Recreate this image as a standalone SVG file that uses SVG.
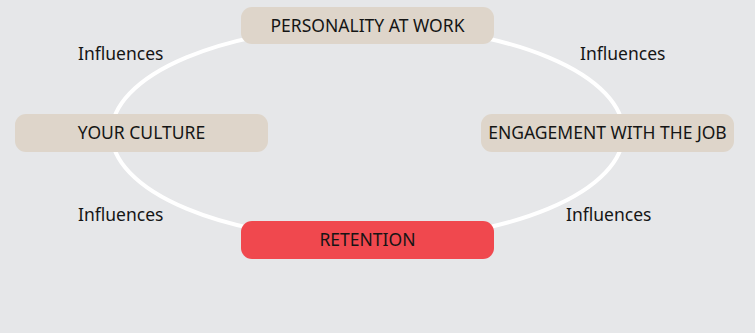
<svg xmlns="http://www.w3.org/2000/svg" width="755" height="333" viewBox="0 0 755 333">
  <style>
    .node { fill: #ded5ca; }
    .hot { fill: #f0484e; }
    .lbl { font-family: "Noto Sans", "Open Sans", sans-serif; font-size: 17.5px; fill: #151515; text-anchor: middle; }
    .edge { font-family: "Noto Sans", "Open Sans", sans-serif; font-size: 17.5px; fill: #151515; }
  </style>
  <rect width="755" height="333" fill="#e6e7e9"/>
  <g id="connectors">
    <ellipse cx="367.5" cy="133" rx="256" ry="107" fill="none" stroke="#ffffff" stroke-width="4"/>
    <text class="edge" x="78" y="60">Influences</text>
    <text class="edge" x="580" y="60">Influences</text>
    <text class="edge" x="78" y="221">Influences</text>
    <text class="edge" x="566" y="221">Influences</text>
  </g>
  <g id="personality">
    <rect class="node" x="241" y="7" width="253" height="37" rx="11"/>
    <text class="lbl" x="367.5" y="32">PERSONALITY AT WORK</text>
  </g>
  <g id="culture">
    <rect class="node" x="15" y="114" width="253" height="38" rx="11"/>
    <text class="lbl" x="141.5" y="139">YOUR CULTURE</text>
  </g>
  <g id="engagement">
    <rect class="node" x="481" y="114" width="253" height="38" rx="11"/>
    <text class="lbl" x="607.5" y="139">ENGAGEMENT WITH THE JOB</text>
  </g>
  <g id="retention">
    <rect class="hot" x="241" y="221" width="253" height="38" rx="11"/>
    <text class="lbl" x="367.5" y="246">RETENTION</text>
  </g>
</svg>
